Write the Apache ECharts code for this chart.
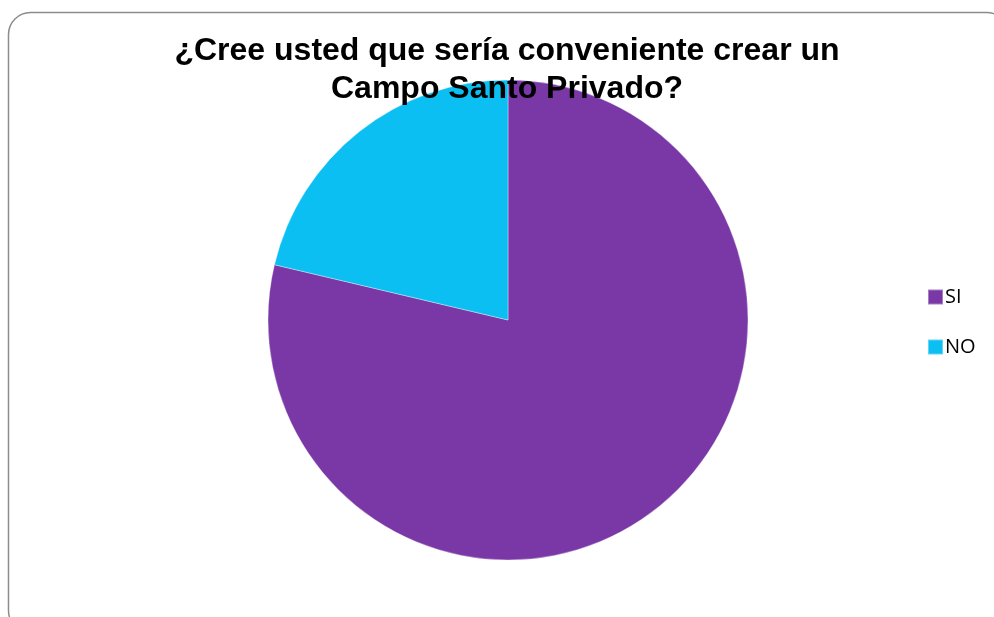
<!DOCTYPE html>
<html>
<head>
<meta charset="utf-8">
<script src="https://cdn.jsdelivr.net/npm/echarts@6/dist/echarts.min.js"></script>
<style>
  html, body { margin: 0; padding: 0; background: #fff; }
  #chart { width: 994px; height: 617px; }
</style>
</head>
<body>
<div id="chart"></div>
<script>
// Pie values (share of answers)
const categories = ['SI', 'NO'];
const values = [78.7, 21.3];
const colors = ['#7a38a7', '#0bbff3'];

const chart = echarts.init(document.getElementById('chart'));

const option = {
  animation: false,
  title: {
    text: '¿Cree usted que sería conveniente crear un\nCampo Santo Privado?',
    left: 502,
    textAlign: 'center',
    top: 27,
    textStyle: {
      fontFamily: 'Liberation Sans',
      fontSize: 32,
      fontWeight: 'bold',
      color: '#000',
      lineHeight: 38
    }
  },
  legend: {
    orient: 'vertical',
    left: 922,
    top: 282,
    icon: 'rect',
    itemWidth: 15,
    itemHeight: 15,
    itemGap: 30,
    textStyle: {
      fontFamily: 'Open Sans',
      fontSize: 20,
      color: '#000',
      padding: [0, 0, 0, -3]
    },
    data: categories
  },
  graphic: [{
    type: 'rect',
    silent: true,
    shape: { x: 8.5, y: 12.5, width: 1000, height: 620, r: 22 },
    style: { fill: 'none', stroke: '#8c8c8c', lineWidth: 1.5 },
    z: -1
  }],
  series: [{
    type: 'pie',
    center: [508, 320],
    radius: 240,
    startAngle: 90,
    clockwise: true,
    label: { show: false },
    labelLine: { show: false },
    itemStyle: { borderColor: 'rgba(255,255,255,0.35)', borderWidth: 1 },
    data: categories.map((c, i) => ({
      name: c,
      value: values[i],
      itemStyle: { color: colors[i] }
    }))
  }]
};

chart.setOption(option);
</script>
</body>
</html>
